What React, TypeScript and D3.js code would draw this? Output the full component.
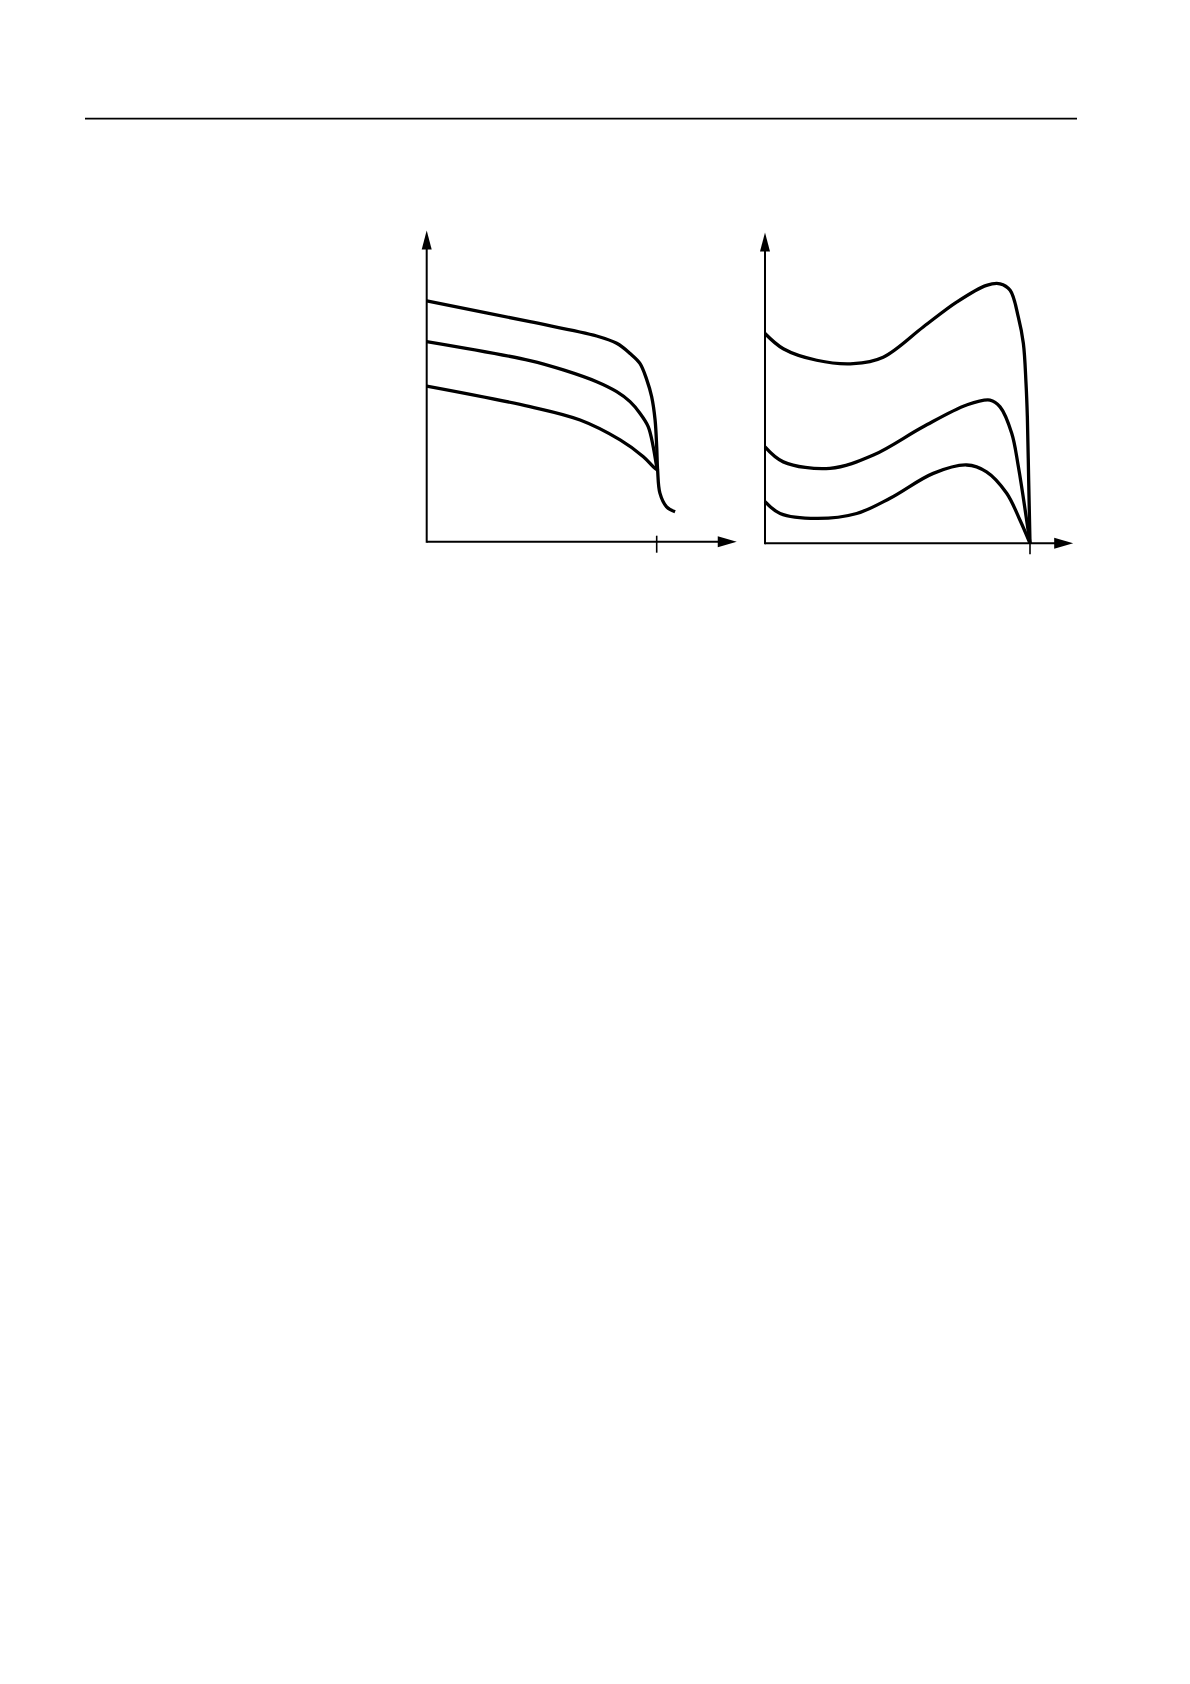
import React from 'react';
import * as d3 from 'd3';

// Left panel: three falling curves meeting near the tick (x = 100)
const leftTop: [number, number][] = [
  [0, 77.4], [44.9, 70.7], [73.9, 66.1], [82.6, 63.75], [88.4, 60.5], [92.7, 57.3],
  [95.7, 52], [97.8, 46.6], [99.3, 39.1], [100, 30.5], [100.4, 23],
  [101.4, 15.6], [104.3, 11.2], [108, 9.6],
];
const leftMid: [number, number][] = [
  [0, 64.3], [44.9, 58.2], [59.4, 55.2], [73.9, 51.4], [82.6, 48.2], [88.4, 45],
  [92.7, 41.3], [96.3, 37], [98.5, 30.5], [100, 24.1], [100.4, 23],
];
const leftLow: [number, number][] = [
  [0, 50], [44.9, 43.4], [66.7, 39.1], [84.1, 32.7], [94.2, 27.3],
  [98.5, 24.1], [100.4, 23],
];

// Right panel: three humped curves all ending at the tick on the x axis
const rightTop: [number, number][] = [
  [0, 67.5], [6.9, 62.6], [19.5, 58.9], [33.3, 57.8], [44.6, 59.9], [59.7, 69.6],
  [72.3, 77.6], [83.6, 83], [88.7, 83.5], [92.5, 81.4], [95.6, 72.8], [97.5, 64.3],
  [98.5, 51.4], [99, 40.7], [99.5, 20.3], [100, 0],
];
const rightMid: [number, number][] = [
  [0, 31], [6.9, 26.2], [24.5, 24.1], [40.9, 28.4], [59.7, 37.5], [76.1, 44.5],
  [84.9, 46.1], [88.7, 43.9], [93.1, 35.4], [95.6, 24.7], [100, 0],
];
const rightLow: [number, number][] = [
  [0, 13.4], [5.7, 9.6], [19.5, 8], [34.6, 9.6], [47.2, 14.5], [63.5, 22.5],
  [76.1, 25.2], [83.6, 23], [91.2, 16.1], [96.2, 7.5], [100, 0],
];

const xTicks = [100];

interface PanelProps {
  series: [number, number][][];
  x0: number;
  x1: number;
  y0: number;
  xArrow: number;
  yArrowPx: number;
}

function Panel({ series, x0, x1, y0, xArrow, yArrowPx }: PanelProps) {
  const x = d3.scaleLinear().domain([0, 100]).range([x0, x1]);
  const y = d3.scaleLinear().domain([0, 100]).range([y0, yArrowPx]);

  const line = d3.line<[number, number]>()
    .x(d => x(d[0]))
    .y(d => y(d[1]))
    .curve(d3.curveCatmullRom.alpha(0.5));

  const xa = x(xArrow);
  const ya = y(100);
  const ox = x(0);
  const oy = y(0);

  return (
    <g>
      {/* axes */}
      <line x1={ox} y1={oy} x2={xa - 14} y2={oy} stroke="#000" strokeWidth={2} />
      <line x1={ox} y1={oy + 1} x2={ox} y2={ya + 14} stroke="#000" strokeWidth={2} />
      <path d={`M${xa},${oy} L${xa - 19},${oy - 5.5} L${xa - 19},${oy + 5.5} Z`} fill="#000" />
      <path d={`M${ox},${ya} L${ox - 5},${ya + 19} L${ox + 5},${ya + 19} Z`} fill="#000" />
      {xTicks.map(t => (
        <line key={t} x1={x(t)} x2={x(t)} y1={oy - 6} y2={oy + 11} stroke="#000" strokeWidth={1.6} />
      ))}
      {series.map((s, i) => (
        <path key={i} d={line(s) || ''} fill="none" stroke="#000" strokeWidth={3.3}
          strokeLinejoin="round" strokeLinecap="butt" />
      ))}
    </g>
  );
}

export default function App() {
  return (
    <svg width={1190} height={1684} style={{ position: 'absolute', left: 0, top: 0, background: '#fff' }}>
      <line x1={85} x2={1077} y1={118.7} y2={118.7} stroke="#000" strokeWidth={1.8} />
      <Panel series={[leftTop, leftMid, leftLow]} x0={426.7} x1={656.7} y0={541.7}
        xArrow={134.8} yArrowPx={230.5} />
      <Panel series={[rightTop, rightMid, rightLow]} x0={765} x1={1030} y0={543.3}
        xArrow={116.3} yArrowPx={232.5} />
    </svg>
  );
}
